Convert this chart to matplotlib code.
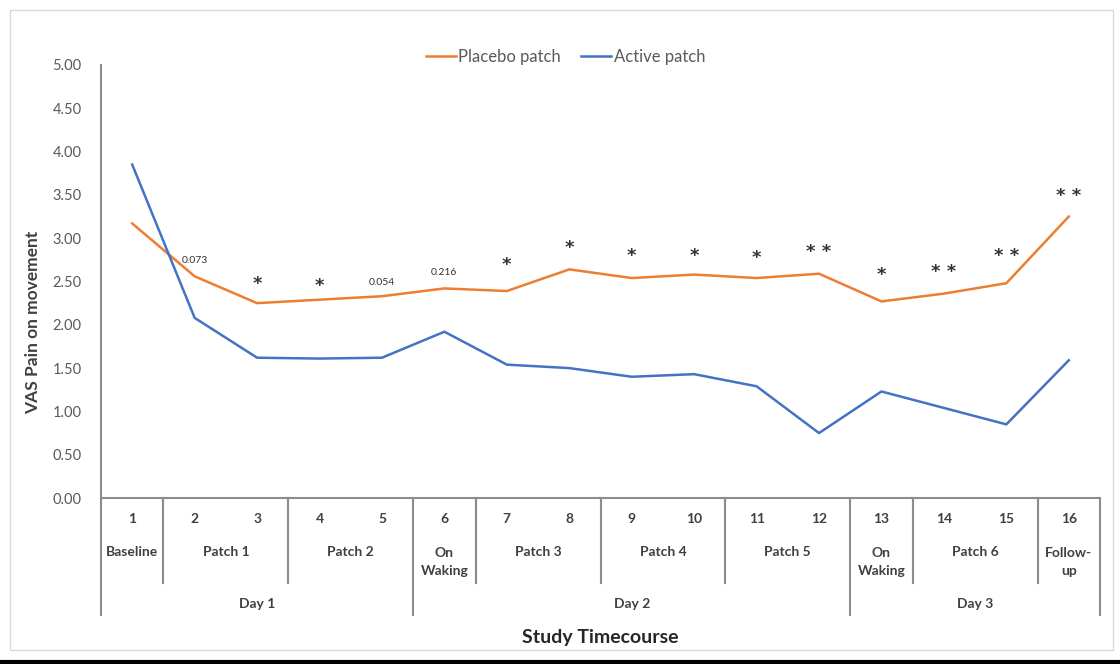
import matplotlib
matplotlib.use('Agg')
import matplotlib.pyplot as plt
from matplotlib.patches import Rectangle
from matplotlib.lines import Line2D

plt.rcParams['font.family'] = ['Lato', 'DejaVu Sans']

# Data
timepoints = list(range(1, 17))
placebo = [3.17, 2.56, 2.25, 2.29, 2.33, 2.42, 2.39, 2.64, 2.54, 2.58, 2.54, 2.59, 2.27, 2.36, 2.48, 3.25]
active = [3.85, 2.08, 1.62, 1.61, 1.62, 1.92, 1.54, 1.50, 1.40, 1.43, 1.29, 0.75, 1.23, 1.04, 0.85, 1.59]

# significance labels above placebo line: (timepoint, text, y)
sig_labels = [(2, '0.073', 2.74), (3, '*', 2.47), (4, '*', 2.45), (5, '0.054', 2.49),
              (6, '0.216', 2.60), (7, '*', 2.69), (8, '*', 2.89), (9, '*', 2.79),
              (10, '*', 2.80), (11, '*', 2.77), (12, '**', 2.84), (13, '*', 2.58),
              (14, '**', 2.61), (15, '**', 2.79), (16, '**', 3.49)]

# category groups (label, first, last)
phases = [('Baseline', 1, 1), ('Patch 1', 2, 3), ('Patch 2', 4, 5), ('On\nWaking', 6, 6),
          ('Patch 3', 7, 8), ('Patch 4', 9, 10), ('Patch 5', 11, 12), ('On\nWaking', 13, 13),
          ('Patch 6', 14, 15), ('Follow-\nup', 16, 16)]
days = [('Day 1', 1, 5), ('Day 2', 6, 12), ('Day 3', 13, 16)]

yticks = [0, 0.5, 1, 1.5, 2, 2.5, 3, 3.5, 4, 4.5, 5]

ORANGE = '#ED7D31'
BLUE = '#4472C4'
AXC = '#8c8c8c'
TXT = '#404040'

fig = plt.figure(figsize=(11.2, 6.64), dpi=100)
# chart area frame
fig.patches.append(Rectangle((10 / 1120, 1 - 650 / 664), 1103 / 1120, 640 / 664,
                             transform=fig.transFigure, fill=False, ec='#d9d9d9', lw=1))
fig.add_artist(Line2D([0, 1], [1 - 662 / 664] * 2, transform=fig.transFigure, color='black', lw=3))

ax = fig.add_axes([101 / 1120, 1 - 498 / 664, 999 / 1120, 433 / 664])
ax.plot(timepoints, placebo, color=ORANGE, lw=1.8, label='Placebo patch')
ax.plot(timepoints, active, color=BLUE, lw=1.8, label='Active patch')

for x, s, y in sig_labels:
    if '*' in s:
        txt = ' '.join(s)
        ax.text(x, y, txt, ha='center', va='center', fontsize=13, color='#333333',
                family='DejaVu Sans', fontweight='bold')
    else:
        ax.text(x, y, s, ha='center', va='center', fontsize=7.5, color='#333333')

ax.set_xlim(0.5, 16.5)
ax.set_ylim(0, 5)
ax.set_yticks(yticks)
ax.set_yticklabels(['%.2f' % v for v in yticks])
ax.tick_params(axis='y', length=0, labelsize=10.5, labelcolor='#595959', pad=14)
ax.set_xticks([])
for s in ['top', 'right']:
    ax.spines[s].set_visible(False)
ax.spines['left'].set_color(AXC)
ax.spines['bottom'].set_color(AXC)
ax.spines['left'].set_linewidth(1.5)
ax.spines['bottom'].set_linewidth(1.5)

ax.set_ylabel('VAS Pain on movement', fontsize=12.5, fontweight='bold', color=TXT)
ax.yaxis.set_label_coords(-0.06, 0.405)

# multi-level category axis
tr = ax.get_xaxis_transform()
ypx = 433.0
for t in timepoints:
    ax.text(t, -21 / ypx, str(t), transform=tr, ha='center', va='center', fontsize=10,
            color=TXT, fontweight='bold')
for name, a, b in phases:
    yy = -64 / ypx if '\n' in name else -54 / ypx
    ax.text((a + b) / 2, yy, name, transform=tr, ha='center', va='center', fontsize=10,
            color=TXT, fontweight='bold', linespacing=1.55)
day_edges = set()
for name, a, b in days:
    ax.text((a + b) / 2, -106 / ypx, name, transform=tr, ha='center', va='center',
            fontsize=10, color=TXT, fontweight='bold')
    day_edges.add(a - 0.5)
    day_edges.add(b + 0.5)
for name, a, b in phases:
    for e in (a - 0.5, b + 0.5):
        if e not in day_edges:
            ax.plot([e, e], [0, -85 / ypx], transform=tr, color=AXC, lw=1.5, clip_on=False)
for e in day_edges:
    ax.plot([e, e], [0, -117 / ypx], transform=tr, color=AXC, lw=1.5, clip_on=False)

ax.text(8.5, -139 / ypx, 'Study Timecourse', transform=tr, ha='center', va='center',
        fontsize=14, fontweight='bold', color='#262626')

ax.legend(loc='lower center', bbox_to_anchor=(0.465, 0.98), ncol=2, frameon=False,
          fontsize=12, handlelength=1.8, handletextpad=0.15, columnspacing=1.2,
          labelcolor='#595959', borderaxespad=0.1)

fig.savefig('out.png', dpi=100, facecolor='white')
